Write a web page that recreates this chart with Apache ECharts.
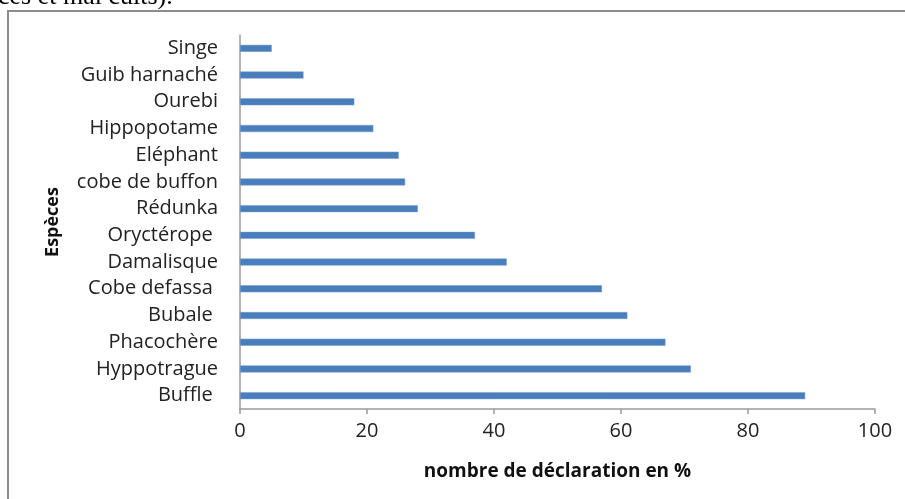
<!DOCTYPE html>
<html>
<head>
<meta charset="utf-8">
<script src="https://cdn.jsdelivr.net/npm/echarts@6/dist/echarts.min.js"></script>
<style>
  html, body { margin: 0; padding: 0; background: #fff; }
  #chart { width: 905px; height: 499px; }
</style>
</head>
<body>
<div id="chart"></div>
<script>
// Species, top to bottom
const species = [
  'Singe', 'Guib harnaché', 'Ourebi', 'Hippopotame', 'Eléphant',
  'cobe de buffon', 'Rédunka', 'Oryctérope ', 'Damalisque', 'Cobe defassa ',
  'Bubale ', 'Phacochère', 'Hyppotrague', 'Buffle '
];
// Share of declarations (%)
const declarations = [5, 10, 18, 21, 25, 26, 28, 37, 42, 57, 61, 67, 71, 89];
// Value axis ticks
const xTicks = [0, 20, 40, 60, 80, 100];

const chart = echarts.init(document.getElementById('chart'));
const axisGrey = '#9a9a9a';
const labelFont = '"Open Sans", sans-serif';

chart.setOption({
  animation: false,
  backgroundColor: '#ffffff',
  grid: { left: 240, right: 30, top: 35, bottom: 90, containLabel: false },
  xAxis: {
    type: 'value',
    min: xTicks[0],
    max: xTicks[xTicks.length - 1],
    interval: xTicks[1] - xTicks[0],
    name: 'nombre de déclaration en %',
    nameLocation: 'middle',
    nameGap: 53,
    nameTextStyle: { fontFamily: labelFont, fontWeight: 'bold', fontSize: 19, color: '#111' },
    axisLine: { show: true, lineStyle: { color: axisGrey, width: 1.5 } },
    axisTick: { show: true, length: 5, lineStyle: { color: axisGrey, width: 1.5 } },
    splitLine: { show: false },
    axisLabel: { fontFamily: labelFont, fontSize: 20, color: '#222', margin: 12 }
  },
  yAxis: {
    type: 'category',
    data: species,
    inverse: true,
    name: 'Espèces',
    nameLocation: 'middle',
    nameGap: 178,
    nameRotate: 90,
    nameTextStyle: { fontFamily: labelFont, fontWeight: 'bold', fontSize: 18, color: '#111' },
    axisLine: { show: true, lineStyle: { color: axisGrey, width: 1.5 } },
    axisTick: { show: false },
    axisLabel: { fontFamily: labelFont, fontSize: 20, color: '#222', margin: 22 }
  },
  series: [{
    type: 'bar',
    data: declarations,
    barWidth: 7,
    itemStyle: { color: '#4a7ebb', borderColor: '#6f9ad0', borderWidth: 0.5 }
  }],
  graphic: [
    {
      type: 'rect',
      shape: { x: 8, y: 11, width: 1200, height: 1200 },
      style: { fill: 'none', stroke: '#8c8c8c', lineWidth: 2 },
      z: 10
    },
    {
      type: 'text',
      left: -2,
      top: -16,
      style: {
        text: 'ces et mal cuits).',
        font: '26px "Liberation Serif", serif',
        fill: '#000'
      },
      z: 10
    }
  ]
});
</script>
</body>
</html>
